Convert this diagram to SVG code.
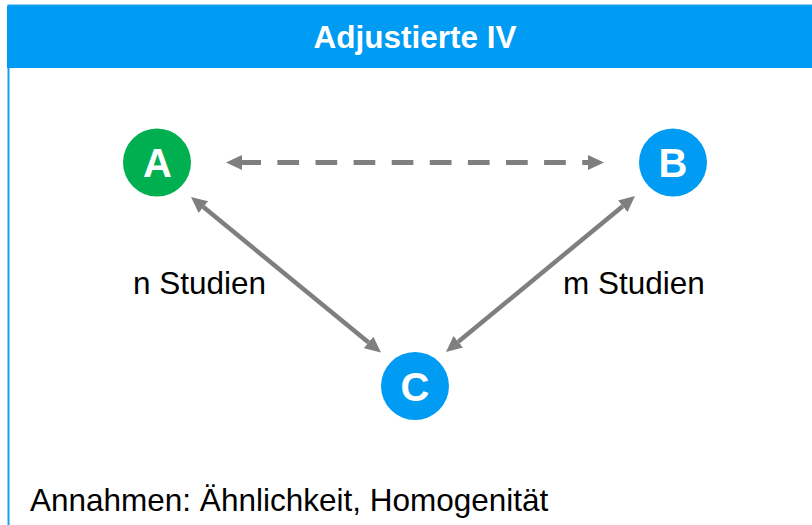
<svg xmlns="http://www.w3.org/2000/svg" width="812" height="525" viewBox="0 0 812 525">
  <style>
    .lbl { font-family: "Liberation Sans", Arial, sans-serif; font-size: 31.5px; fill: #000000; }
    .title { font-family: "Liberation Sans", Arial, sans-serif; font-size: 31.5px; font-weight: bold; fill: #ffffff; }
    .nodeLetter { font-family: "Liberation Sans", Arial, sans-serif; font-size: 40px; font-weight: bold; fill: #ffffff; text-anchor: middle; }
    .conn { stroke: #7f7f7f; fill: none; }
    .solid { stroke-width: 4.5; }
    .dashed { stroke-width: 5; stroke-dasharray: 21.7 16.4; stroke-dashoffset: 2.7; }
  </style>
  <defs>
    <marker id="head" markerUnits="userSpaceOnUse" markerWidth="16" markerHeight="15" viewBox="0 0 16 15" refX="0" refY="7.5" orient="auto-start-reverse">
      <path d="M0,0 L16,7.5 L0,15 z" fill="#7f7f7f"/>
    </marker>
  </defs>
  <rect x="0" y="0" width="812" height="525" fill="#ffffff"/>
  <g id="frame">
    <rect x="8.5" y="5.5" width="820" height="530" fill="none" stroke="#1a9ff0" stroke-width="2"/>
    <rect x="7" y="6" width="810" height="62" fill="#009bf2"/>
    <text class="title" x="415" y="48" text-anchor="middle">Adjustierte IV</text>
  </g>
  <g id="connectors">
    <line class="conn dashed" x1="242" y1="162.5" x2="588" y2="162.5" marker-start="url(#head)" marker-end="url(#head)"/>
    <line class="conn solid" x1="203.4" y1="207.1" x2="368.6" y2="342.4" marker-start="url(#head)" marker-end="url(#head)"/>
    <line class="conn solid" x1="622.7" y1="206.2" x2="458.3" y2="341.8" marker-start="url(#head)" marker-end="url(#head)"/>
  </g>
  <g id="node-A">
    <circle cx="157" cy="162.5" r="34" fill="#00b050"/>
    <text class="nodeLetter" x="157.5" y="177">A</text>
  </g>
  <g id="node-B">
    <circle cx="673" cy="162.5" r="34" fill="#009bf2"/>
    <text class="nodeLetter" x="673" y="177">B</text>
  </g>
  <g id="node-C">
    <circle cx="415" cy="386" r="34" fill="#009bf2"/>
    <text class="nodeLetter" x="415" y="400.5">C</text>
  </g>
  <g id="labels">
    <text class="lbl" x="133" y="294">n Studien</text>
    <text class="lbl" x="563" y="294">m Studien</text>
    <text class="lbl" x="30" y="511">Annahmen: Ähnlichkeit, Homogenität</text>
  </g>
</svg>
